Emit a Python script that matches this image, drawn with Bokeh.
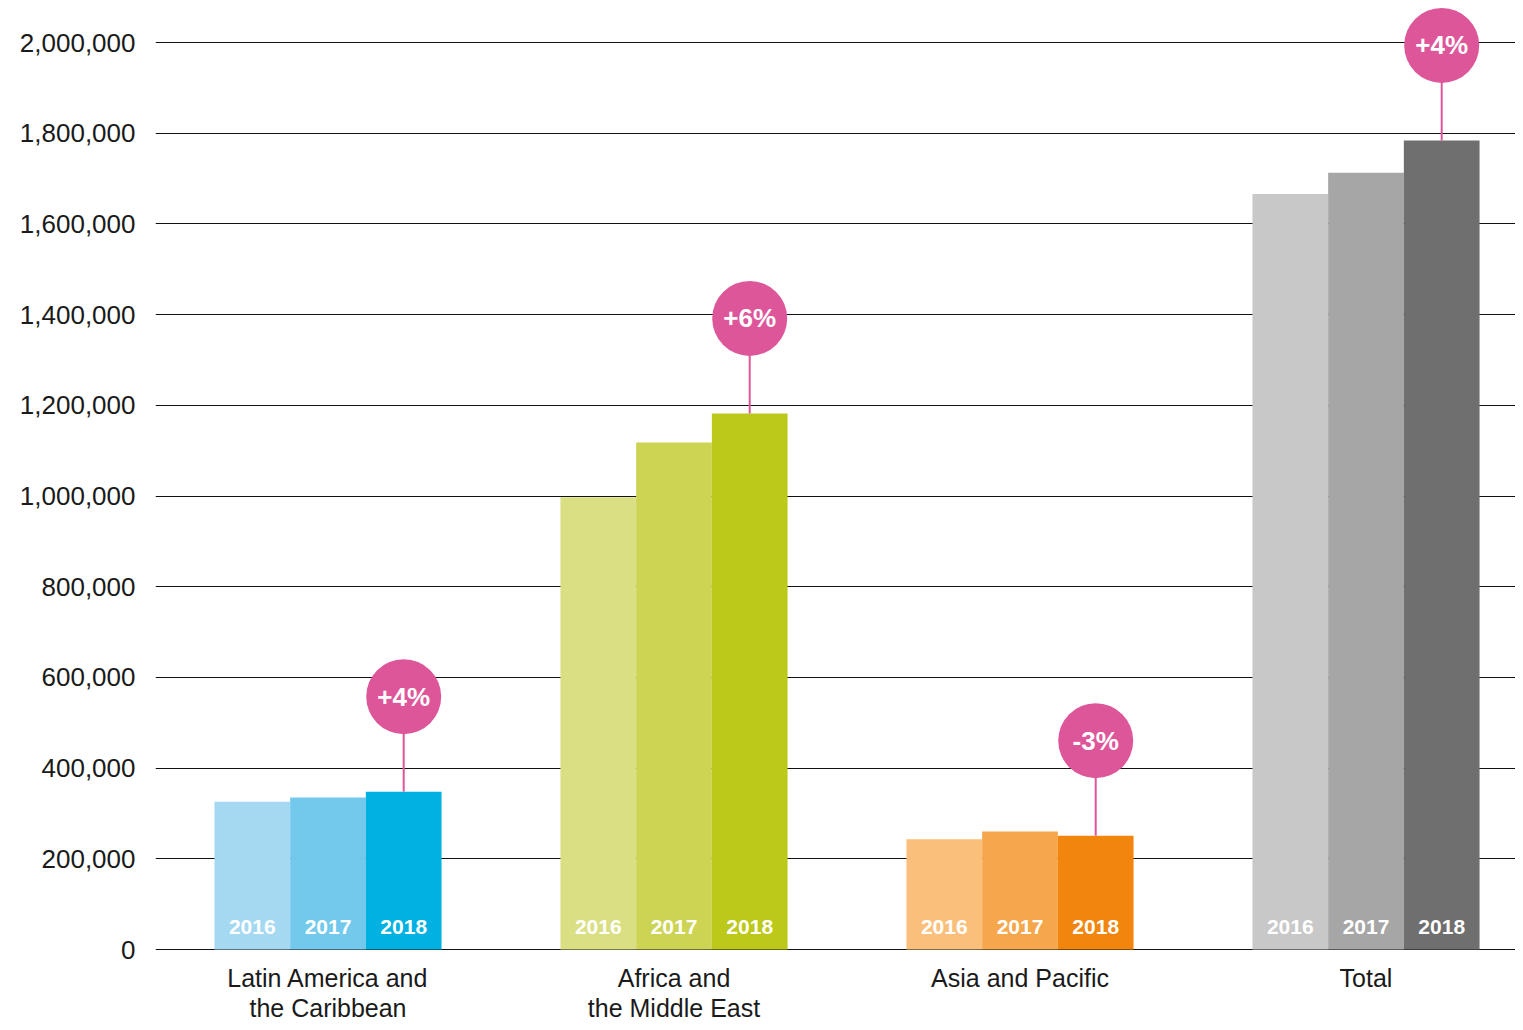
from bokeh.plotting import figure
from bokeh.models import ColumnDataSource, FixedTicker, NumeralTickFormatter, Range1d
from bokeh.core.properties import value
from bokeh.embed import file_html
from bokeh.resources import INLINE

categories = ["Latin America and\nthe Caribbean", "Africa and\nthe Middle East", "Asia and Pacific", "Total"]
years = ["2016", "2017", "2018"]
v2016 = [326000, 997000, 243000, 1666000]
v2017 = [335000, 1118000, 260000, 1713000]
v2018 = [348000, 1182000, 251000, 1784000]
changes = ["+4%", "+6%", "-3%", "+4%"]
y_ticks = [0, 200000, 400000, 600000, 800000, 1000000, 1200000, 1400000, 1600000, 1800000, 2000000]

colors = [
    ["#a4d9f1", "#72c9eb", "#00b1e1"],
    ["#d9df82", "#cdd453", "#bcc81a"],
    ["#f9bf7b", "#f6a74c", "#f2850d"],
    ["#c8c8c8", "#a6a6a6", "#6f6f6f"],
]
PINK = "#de569a"
FONT = "Liberation Sans"

bw = 0.2188
series = [v2016, v2017, v2018]
bx, btop, bcol, blab = [], [], [], []
for i in range(len(categories)):
    for j in range(3):
        bx.append(i + (j - 1) * bw)
        btop.append(series[j][i])
        bcol.append(colors[i][j])
        blab.append(years[j])
bars = ColumnDataSource(dict(x=bx, top=btop, color=bcol, label=blab))

circ_off = 209500
cx = [i + bw for i in range(len(categories))]
circles = ColumnDataSource(dict(
    x=cx, y0=v2018, y1=[v + circ_off for v in v2018], text=changes))
cats = ColumnDataSource(dict(x=list(range(len(categories))), y=[0] * len(categories), text=categories))

W, H = 1515, 1022
left = 155
zero_px = 949
k = 907 / 2e6
x0 = -(327.5 - left) / 346
p = figure(width=W, height=H, output_backend="svg", toolbar_location=None,
           x_range=Range1d(x0, x0 + (W - left) / 346),
           y_range=Range1d(-(H - zero_px) / k, zero_px / k),
           min_border_left=left, min_border_right=0, min_border_top=0, min_border_bottom=0)
p.outline_line_color = None
p.background_fill_color = "white"
p.border_fill_color = "white"
p.xaxis.visible = False
p.xgrid.visible = False

p.yaxis.ticker = FixedTicker(ticks=y_ticks)
p.yaxis.formatter = NumeralTickFormatter(format="0,0")
p.yaxis.axis_line_color = None
p.yaxis.major_tick_line_color = None
p.yaxis.minor_tick_line_color = None
p.yaxis.major_label_text_font = FONT
p.yaxis.major_label_text_font_size = "26px"
p.yaxis.major_label_text_color = "#1a1a1a"
p.yaxis.major_label_standoff = 14
p.ygrid.ticker = FixedTicker(ticks=y_ticks)
p.ygrid.grid_line_color = "#111111"
p.ygrid.grid_line_width = 1

p.vbar(x="x", top="top", bottom=0, width=bw, source=bars, fill_color="color", line_color=None)
p.text(x="x", y=0, text="label", source=bars, text_color="white", text_font=value(FONT),
       text_font_style="bold", text_font_size="21px", text_align="center",
       text_baseline="middle", y_offset=-23)

p.segment(x0="x", y0="y0", x1="x", y1="y1", source=circles, line_color=PINK, line_width=2)
p.scatter(x="x", y="y1", source=circles, marker="circle", size=75, fill_color=PINK, line_color=None)
p.text(x="x", y="y1", text="text", source=circles, text_color="white", text_font=value(FONT),
       text_font_style="bold", text_font_size="26px", text_align="center", text_baseline="middle")

p.text(x="x", y="y", text="text", source=cats, text_color="#1a1a1a", text_font=value(FONT),
       text_font_size="25px", text_align="center", text_baseline="top", y_offset=14,
       text_line_height=1.1)

open("out.html", "w").write(file_html(p, INLINE))
